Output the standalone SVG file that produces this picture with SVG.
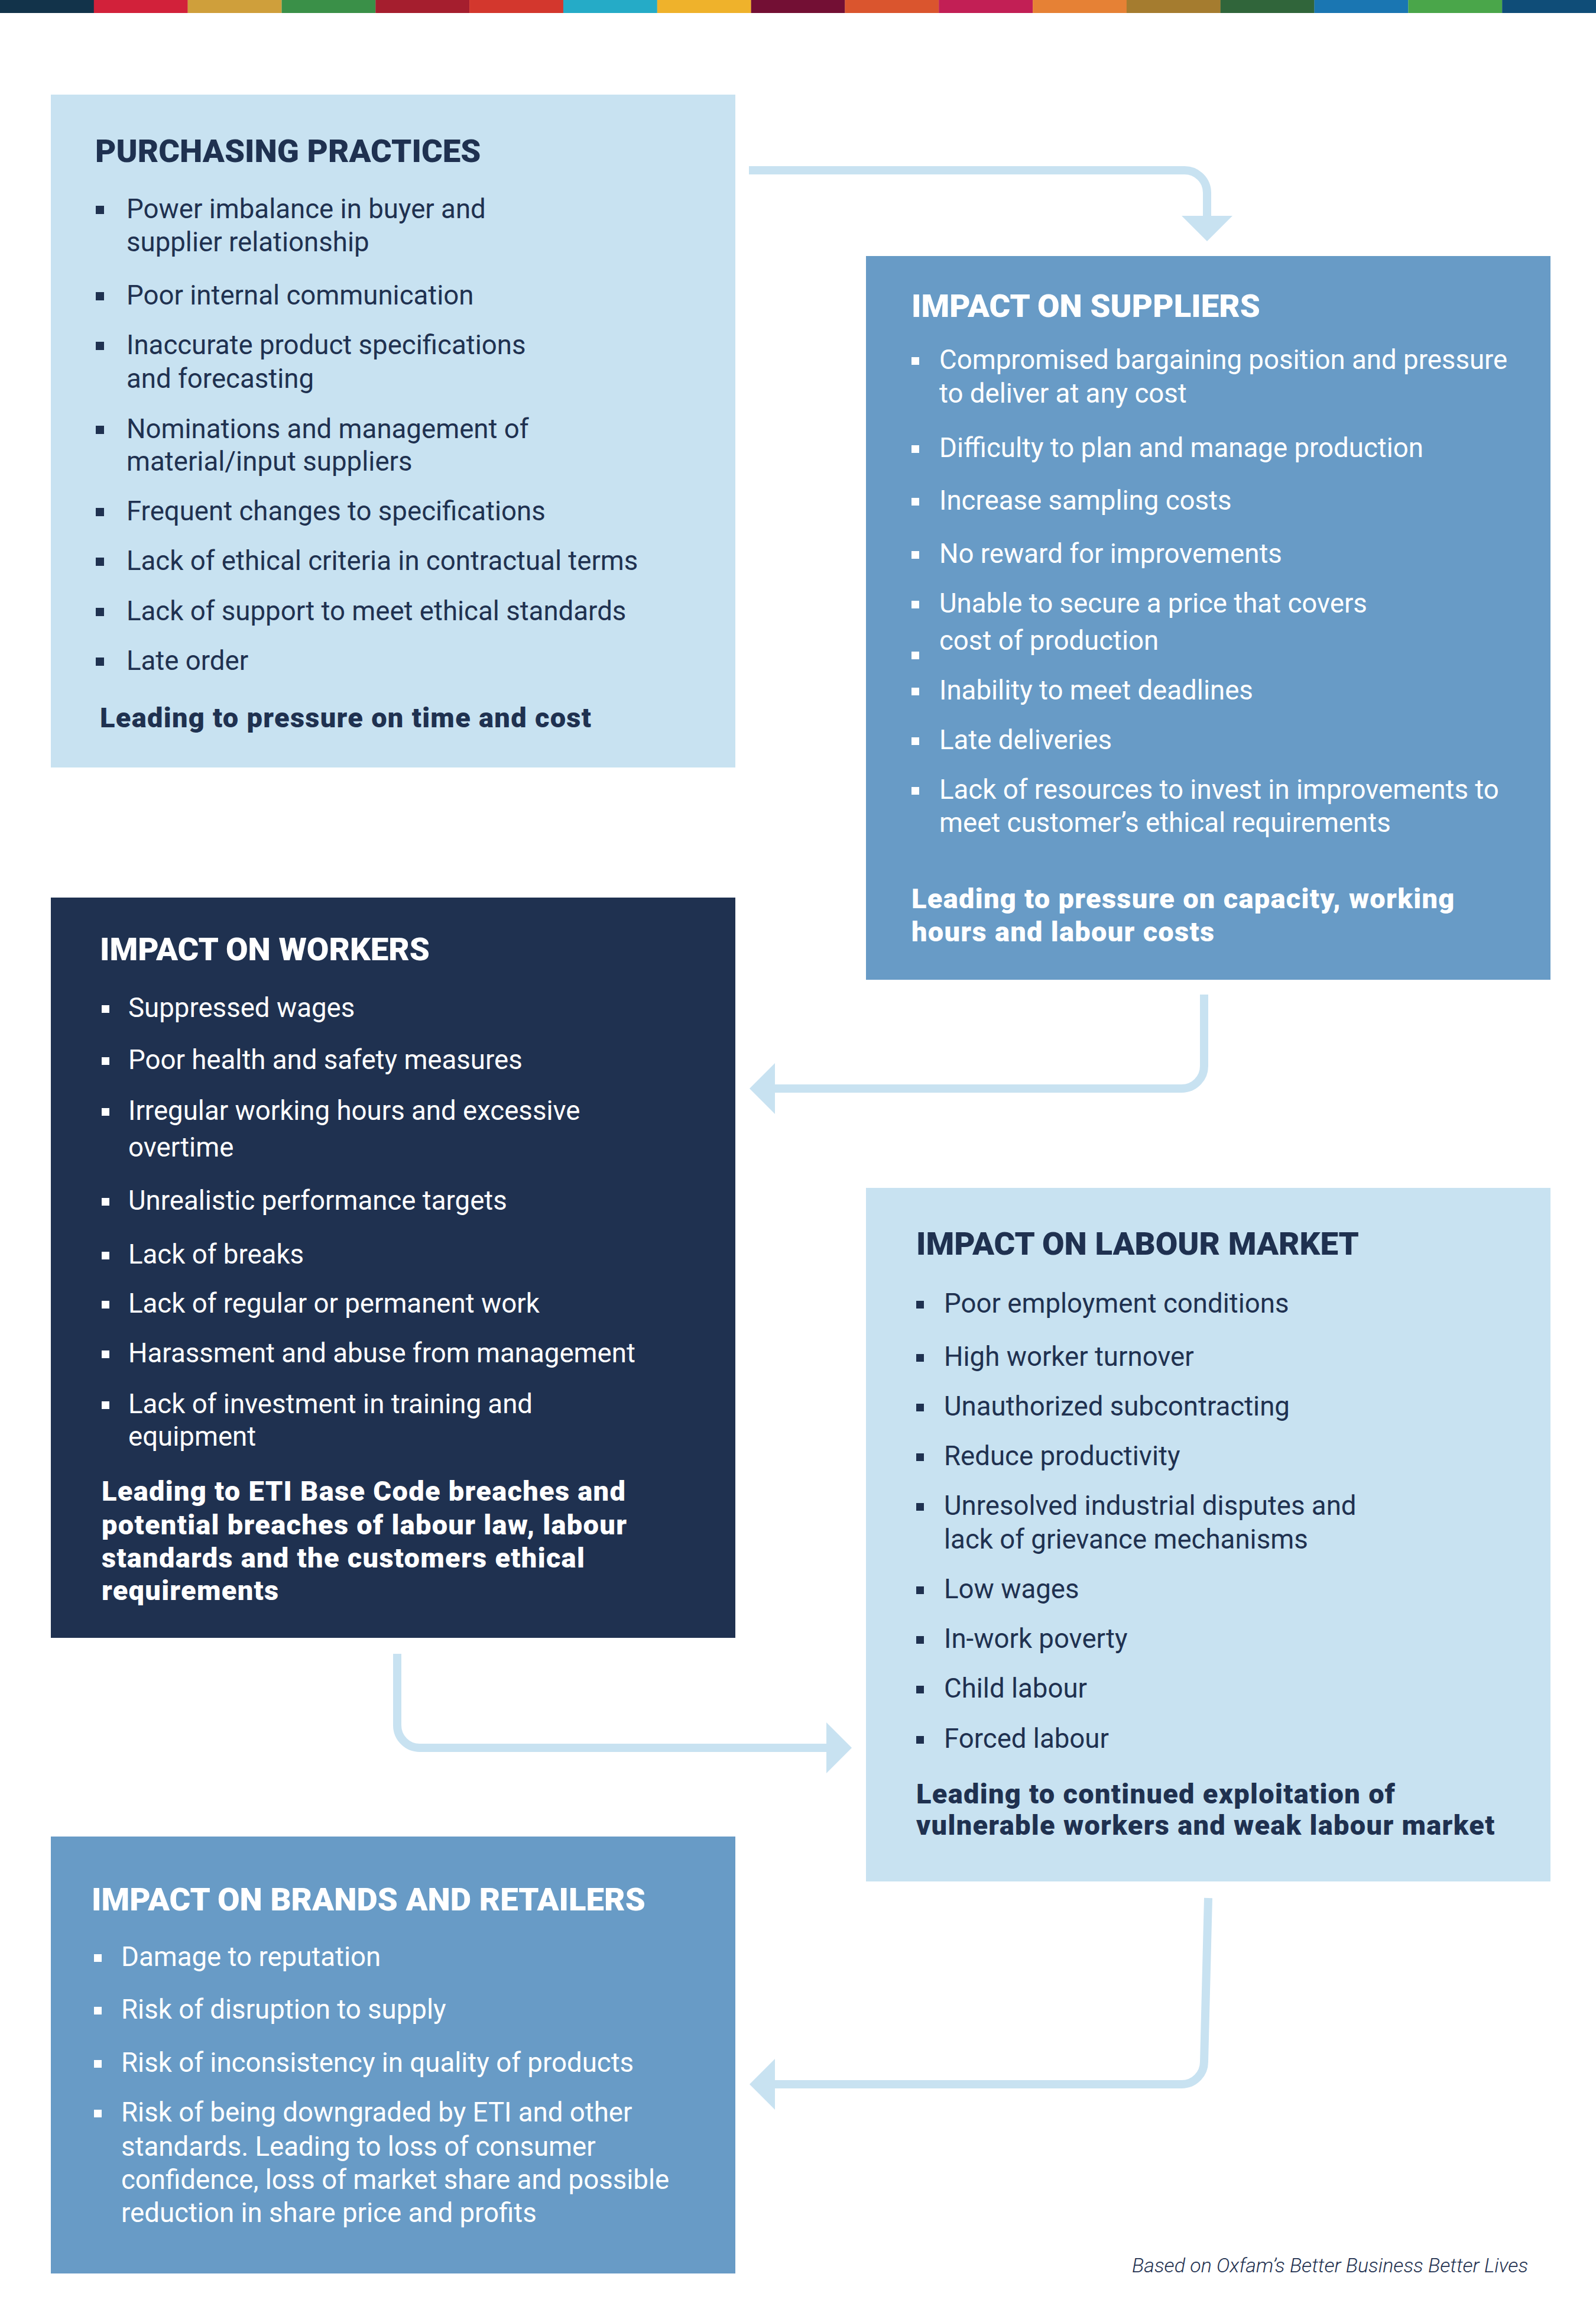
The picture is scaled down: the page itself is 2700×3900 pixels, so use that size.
<svg xmlns="http://www.w3.org/2000/svg" width="2700" height="3900" viewBox="0 0 2700 3900">
<style>
text{font-family:Roboto,"Liberation Sans",sans-serif}
.h{font-size:54.5px;font-weight:900}
.t{font-size:45.6px;font-weight:400}
.b{font-size:47px;font-weight:900;letter-spacing:1.3px}
.nv{fill:#1f3150}
.wh{fill:#ffffff}
.lb{fill:#c8e2f1}
.mb{fill:#689bc6}
.db{fill:#1f3150}
.conn{fill:none;stroke:#c8e2f1;stroke-width:14}
.foot{font-size:34px;font-style:italic;font-weight:300;fill:#1f3150}
</style>
<defs>
<marker id="ah" markerUnits="userSpaceOnUse" viewBox="0 0 43 86" refX="0" refY="43" markerWidth="43" markerHeight="86" orient="auto">
<path d="M0,0 L43,43 L0,86 Z" fill="#c8e2f1"/>
</marker>
</defs>
<rect width="2700" height="3900" fill="#ffffff"/>
<g id="colour-bar">
<rect x="0" y="0" width="159" height="22" fill="#12334a"/>
<rect x="158.8" y="0" width="159" height="22" fill="#d2213a"/>
<rect x="317.6" y="0" width="159" height="22" fill="#cf9f3b"/>
<rect x="476.5" y="0" width="159" height="22" fill="#3a9048"/>
<rect x="635.3" y="0" width="159" height="22" fill="#a51e2e"/>
<rect x="794.1" y="0" width="159" height="22" fill="#d3372d"/>
<rect x="952.9" y="0" width="159" height="22" fill="#25abc7"/>
<rect x="1111.8" y="0" width="159" height="22" fill="#efb22b"/>
<rect x="1270.6" y="0" width="159" height="22" fill="#730f34"/>
<rect x="1429.4" y="0" width="159" height="22" fill="#da552e"/>
<rect x="1588.2" y="0" width="159" height="22" fill="#c21f55"/>
<rect x="1747.1" y="0" width="159" height="22" fill="#e68135"/>
<rect x="1905.9" y="0" width="159" height="22" fill="#a57c2f"/>
<rect x="2064.7" y="0" width="159" height="22" fill="#30653a"/>
<rect x="2223.5" y="0" width="159" height="22" fill="#1a76b2"/>
<rect x="2382.4" y="0" width="159" height="22" fill="#4aa64a"/>
<rect x="2541.2" y="0" width="159" height="22" fill="#0f4d78"/>
</g>

<g id="connectors">
<path class="conn" d="M1267,288 H2004 A38,38 0 0 1 2042,326 V365" marker-end="url(#ah)"/>
<path class="conn" d="M2037,1682 V1803 A38,38 0 0 1 1999,1841 H1311" marker-end="url(#ah)"/>
<path class="conn" d="M672,2797 V2918 A38,38 0 0 0 710,2956 H1398" marker-end="url(#ah)"/>
<path class="conn" d="M2044,3210 L2037,3487 A38,38 0 0 1 1999,3525 H1311" marker-end="url(#ah)"/>
</g>

<g id="purchasing-practices">
<rect class="lb" x="86" y="160" width="1158" height="1138"/>
<text class="h nv" x="161" y="274">PURCHASING PRACTICES</text>
<g class="nv">
<rect x="162" y="348" width="14" height="14"/>
<rect x="162" y="494" width="14" height="14"/>
<rect x="162" y="578" width="14" height="14"/>
<rect x="162" y="720" width="14" height="14"/>
<rect x="162" y="859" width="14" height="14"/>
<rect x="162" y="943" width="14" height="14"/>
<rect x="162" y="1028" width="14" height="14"/>
<rect x="162" y="1112" width="14" height="14"/>
</g>
<text class="t nv" x="214" y="369">Power imbalance in buyer and</text>
<text class="t nv" x="214" y="425">supplier relationship</text>
<text class="t nv" x="214" y="515">Poor internal communication</text>
<text class="t nv" x="214" y="599">Inaccurate product specifications</text>
<text class="t nv" x="214" y="656">and forecasting</text>
<text class="t nv" x="214" y="741">Nominations and management of</text>
<text class="t nv" x="214" y="796">material/input suppliers</text>
<text class="t nv" x="214" y="880">Frequent changes to specifications</text>
<text class="t nv" x="214" y="964">Lack of ethical criteria in contractual terms</text>
<text class="t nv" x="214" y="1049">Lack of support to meet ethical standards</text>
<text class="t nv" x="214" y="1133">Late order</text>
<text class="b nv" x="169" y="1230">Leading to pressure on time and cost</text>
</g>

<g id="impact-on-suppliers">
<rect class="mb" x="1465" y="433" width="1158" height="1224"/>
<text class="h wh" x="1542" y="536">IMPACT ON SUPPLIERS</text>
<g class="wh">
<rect x="1542" y="604" width="13" height="13"/>
<rect x="1542" y="753" width="13" height="13"/>
<rect x="1542" y="842" width="13" height="13"/>
<rect x="1542" y="932" width="13" height="13"/>
<rect x="1542" y="1016" width="13" height="13"/>
<rect x="1542" y="1102" width="13" height="13"/>
<rect x="1542" y="1163" width="13" height="13"/>
<rect x="1542" y="1247" width="13" height="13"/>
<rect x="1542" y="1331" width="13" height="13"/>
</g>
<text class="t wh" x="1589" y="624">Compromised bargaining position and pressure</text>
<text class="t wh" x="1589" y="681">to deliver at any cost</text>
<text class="t wh" x="1589" y="773">Difficulty to plan and manage production</text>
<text class="t wh" x="1589" y="862">Increase sampling costs</text>
<text class="t wh" x="1589" y="952">No reward for improvements</text>
<text class="t wh" x="1589" y="1036">Unable to secure a price that covers</text>
<text class="t wh" x="1589" y="1099">cost of production</text>
<text class="t wh" x="1589" y="1183">Inability to meet deadlines</text>
<text class="t wh" x="1589" y="1267">Late deliveries</text>
<text class="t wh" x="1589" y="1351">Lack of resources to invest in improvements to</text>
<text class="t wh" x="1589" y="1407">meet customer’s ethical requirements</text>
<text class="b wh" x="1542" y="1536">Leading to pressure on capacity, working</text>
<text class="b wh" x="1542" y="1592">hours and labour costs</text>
</g>

<g id="impact-on-workers">
<rect class="db" x="86" y="1518" width="1158" height="1252"/>
<text class="h wh" x="169" y="1624">IMPACT ON WORKERS</text>
<g class="wh">
<rect x="172" y="1700" width="13" height="13"/>
<rect x="172" y="1788" width="13" height="13"/>
<rect x="172" y="1874" width="13" height="13"/>
<rect x="172" y="2026" width="13" height="13"/>
<rect x="172" y="2117" width="13" height="13"/>
<rect x="172" y="2200" width="13" height="13"/>
<rect x="172" y="2284" width="13" height="13"/>
<rect x="172" y="2370" width="13" height="13"/>
</g>
<text class="t wh" x="217" y="1720">Suppressed wages</text>
<text class="t wh" x="217" y="1808">Poor health and safety measures</text>
<text class="t wh" x="217" y="1894">Irregular working hours and excessive</text>
<text class="t wh" x="217" y="1956">overtime</text>
<text class="t wh" x="217" y="2046">Unrealistic performance targets</text>
<text class="t wh" x="217" y="2137">Lack of breaks</text>
<text class="t wh" x="217" y="2220">Lack of regular or permanent work</text>
<text class="t wh" x="217" y="2304">Harassment and abuse from management</text>
<text class="t wh" x="217" y="2390">Lack of investment in training and</text>
<text class="t wh" x="217" y="2445">equipment</text>
<text class="b wh" x="172" y="2538">Leading to ETI Base Code breaches and</text>
<text class="b wh" x="172" y="2595">potential breaches of labour law, labour</text>
<text class="b wh" x="172" y="2651">standards and the customers ethical</text>
<text class="b wh" x="172" y="2706">requirements</text>
</g>

<g id="impact-on-labour-market">
<rect class="lb" x="1465" y="2009" width="1158" height="1173"/>
<text class="h nv" x="1550" y="2122">IMPACT ON LABOUR MARKET</text>
<g class="nv">
<rect x="1550" y="2200" width="13" height="13"/>
<rect x="1550" y="2290" width="13" height="13"/>
<rect x="1550" y="2374" width="13" height="13"/>
<rect x="1550" y="2458" width="13" height="13"/>
<rect x="1550" y="2542" width="13" height="13"/>
<rect x="1550" y="2683" width="13" height="13"/>
<rect x="1550" y="2767" width="13" height="13"/>
<rect x="1550" y="2851" width="13" height="13"/>
<rect x="1550" y="2936" width="13" height="13"/>
</g>
<text class="t nv" x="1597" y="2220">Poor employment conditions</text>
<text class="t nv" x="1597" y="2310">High worker turnover</text>
<text class="t nv" x="1597" y="2394">Unauthorized subcontracting</text>
<text class="t nv" x="1597" y="2478">Reduce productivity</text>
<text class="t nv" x="1597" y="2562">Unresolved industrial disputes and</text>
<text class="t nv" x="1597" y="2619">lack of grievance mechanisms</text>
<text class="t nv" x="1597" y="2703">Low wages</text>
<text class="t nv" x="1597" y="2787">In-work poverty</text>
<text class="t nv" x="1597" y="2871">Child labour</text>
<text class="t nv" x="1597" y="2956">Forced labour</text>
<text class="b nv" x="1550" y="3050">Leading to continued exploitation of</text>
<text class="b nv" x="1550" y="3103">vulnerable workers and weak labour market</text>
</g>

<g id="impact-on-brands-and-retailers">
<rect class="mb" x="86" y="3106" width="1158" height="739"/>
<text class="h wh" x="155" y="3231">IMPACT ON BRANDS AND RETAILERS</text>
<g class="wh">
<rect x="159" y="3305" width="13" height="13"/>
<rect x="159" y="3394" width="13" height="13"/>
<rect x="159" y="3484" width="13" height="13"/>
<rect x="159" y="3568" width="13" height="13"/>
</g>
<text class="t wh" x="205" y="3325">Damage to reputation</text>
<text class="t wh" x="205" y="3414">Risk of disruption to supply</text>
<text class="t wh" x="205" y="3504">Risk of inconsistency in quality of products</text>
<text class="t wh" x="205" y="3588">Risk of being downgraded by ETI and other</text>
<text class="t wh" x="205" y="3646">standards. Leading to loss of consumer</text>
<text class="t wh" x="205" y="3702">confidence, loss of market share and possible</text>
<text class="t wh" x="205" y="3758">reduction in share price and profits</text>
</g>

<text class="foot" x="1915" y="3843">Based on Oxfam’s Better Business Better Lives</text>
</svg>
